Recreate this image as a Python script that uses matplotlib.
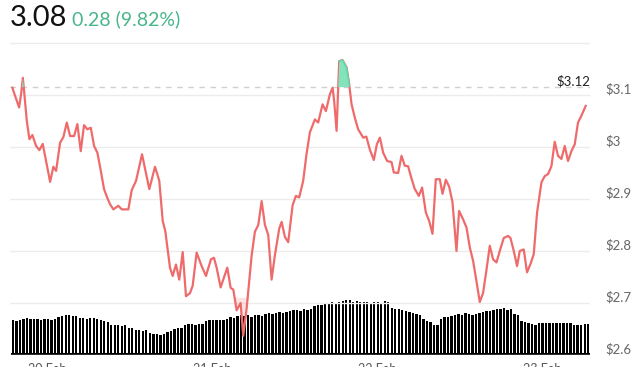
import numpy as np
import matplotlib.pyplot as plt
import matplotlib.transforms as mtransforms

# fiyat verisi (saat, fiyat)
hours = [-5.05, -4.65, -4.07, -3.78, -3.53, -3.35, -2.95, -2.57, -2.14, -1.6,
         -1.12, -0.63, -0.15, 0.44, 0.92, 1.31, 1.89, 2.37, 2.87, 3.35,
         3.93, 4.41, 4.90, 5.38, 5.86, 6.36, 6.84, 7.32, 7.81, 8.29,
         8.77, 9.16, 9.65, 10.37, 10.87, 11.83, 12.32, 12.95, 13.82, 14.88,
         15.71, 16.33, 16.83, 17.21, 17.89, 18.28, 18.76, 19.24, 19.74, 20.22,
         20.8, 21.19, 21.77, 22.50, 23.13, 23.85, 24.29, 24.68, 25.26, 26.23,
         26.72, 27.10, 27.59, 28.17, 28.55, 29.05, 29.78, 30.25, 30.74, 31.23,
         31.71, 32.19, 32.68, 33.16, 33.79, 34.14, 34.62, 35.10, 35.74, 36.22,
         36.70, 37.28, 37.75, 38.25, 38.98, 39.46, 40.1, 40.58, 41.16, 41.56,
         41.79, 42.14, 42.52, 43.01, 43.59, 43.97, 44.32, 44.8, 45.28, 46.01,
         46.47, 46.98, 47.56, 48.0, 48.44, 48.92, 49.50, 50.14, 50.47, 51.10,
         51.59, 52.07, 52.55, 53.05, 53.53, 54.11, 54.59, 55.13, 55.61, 56.10,
         56.58, 57.16, 57.56, 58.04, 58.52, 59.01, 59.59, 59.97, 60.55, 61.05,
         61.53, 62.01, 62.50, 62.98, 63.46, 63.96, 64.44, 64.92, 65.41, 65.89,
         66.47, 67.10, 67.45, 67.93, 68.41, 68.8, 69.38, 69.86, 70.36, 70.84,
         71.32, 71.96, 72.44, 72.92, 73.41, 73.89, 74.37, 74.86, 75.35, 75.83,
         76.32, 76.80, 77.28, 77.77, 78.40]
prices = [3.114, 3.098, 3.076, 3.102, 3.133, 3.108, 3.05, 3.015, 3.023, 3.002,
          2.994, 3.006, 2.973, 2.933, 2.962, 2.954, 3.008, 3.019, 3.047, 3.021,
          3.021, 3.044, 2.992, 3.042, 3.034, 3.037, 3.002, 2.989, 2.955, 2.919,
          2.902, 2.89, 2.88, 2.887, 2.88, 2.88, 2.917, 2.935, 2.986, 2.919,
          2.962, 2.935, 2.858, 2.838, 2.768, 2.752, 2.774, 2.745, 2.798, 2.713,
          2.719, 2.733, 2.797, 2.771, 2.752, 2.784, 2.787, 2.768, 2.73, 2.768,
          2.729, 2.726, 2.686, 2.70, 2.637, 2.69, 2.792, 2.837, 2.85, 2.896,
          2.85, 2.831, 2.745, 2.792, 2.843, 2.856, 2.827, 2.817, 2.888, 2.906,
          2.903, 2.935, 2.985, 3.028, 3.053, 3.047, 3.082, 3.069, 3.101, 3.114,
          3.088, 3.031, 3.165, 3.167, 3.153, 3.121, 3.082, 3.056, 3.034, 3.018,
          3.02, 2.995, 2.975, 3.005, 3.018, 2.989, 2.973, 2.971, 2.951, 2.95,
          2.983, 2.964, 2.963, 2.939, 2.919, 2.906, 2.922, 2.874, 2.858, 2.833,
          2.938, 2.938, 2.91, 2.937, 2.924, 2.894, 2.80, 2.877, 2.861, 2.845,
          2.807, 2.781, 2.742, 2.702, 2.719, 2.764, 2.81, 2.784, 2.778, 2.80,
          2.825, 2.829, 2.825, 2.80, 2.771, 2.80, 2.803, 2.759, 2.775, 2.794,
          2.874, 2.932, 2.944, 2.948, 2.963, 3.010, 2.983, 2.977, 3.002, 2.973,
          2.992, 3.005, 3.047, 3.06, 3.079]

# hacim çubukları (göreli birim)
volume = [35, 34, 35, 36, 37, 36,
          36, 36, 35, 36, 36, 35, 36,
          38, 39, 40, 40, 39, 39,
          37, 37, 36, 37, 37, 36, 35,
          34, 33, 30, 30, 30, 29, 30,
          27, 27, 25, 25, 24, 25,
          22, 21, 21, 20, 21, 23, 24,
          26, 27, 27, 30, 31, 31, 30, 31, 31,
          34, 35, 35, 35, 35, 35, 36,
          38, 37, 39, 40, 39, 40,
          38, 40, 40, 39,
          41, 42, 41, 42, 43, 42, 43,
          44, 45, 45, 44, 46, 45, 46,
          49, 50, 50, 52, 52, 53, 52, 53, 54, 55, 55,
          53, 54, 53, 53, 53, 52, 53, 53, 52, 54, 53,
          47, 46, 46, 45, 44, 43, 42, 41, 40,
          36, 34, 33, 30, 30,
          36, 38, 38, 39,
          40, 41, 40, 42, 41, 40, 41,
          42, 43, 44, 44,
          45, 46, 46, 47, 45, 46, 41, 40,
          34, 33, 32, 31, 30,
          32, 32, 32, 32, 32, 32, 32, 32, 32, 32,
          30, 30, 30, 31, 31]

last_price = "3.08"
change_text = "0.28 (9.82%)"
ref_price = 3.115
ref_label = "$3.12"
y_ticks = [2.6, 2.7, 2.8, 2.9, 3.0, 3.1]
y_tick_labels = ["$2.6", "$2.7", "$2.8", "$2.9", "$3", "$3.1"]
grid_levels = [2.6, 2.7, 2.8, 2.9, 3.0, 3.1, 3.2]
day_ticks = [0, 24, 48, 72]
day_labels = ["20 Feb", "21 Feb", "22 Feb", "23 Feb"]

t = np.array(hours)
p = np.array(prices)
v = np.array(volume)
bar_t = np.linspace(-4.95, 78.76, len(v))

plt.rcParams['font.family'] = ['Lato', 'DejaVu Sans']

fig = plt.figure(figsize=(6.4, 3.67), dpi=100)
ax = fig.add_axes([0.0156, 0.0327, 0.906, 0.8856])
ax2 = ax.twinx()

# hacim çubukları arkada
ax2.bar(bar_t, v, width=0.34, color='black', linewidth=0)
ax2.plot([bar_t[0] - 0.2, bar_t[-1] + 0.2], [0.8, 0.8], color='black', lw=2.2)
ax2.set_ylim(0, 325)
ax2.axis('off')

# fiyat ekseni önde
ax.set_zorder(ax2.get_zorder() + 1)
ax.patch.set_visible(False)

for g in grid_levels:
    ax.axhline(g, color='#ececec', lw=1, zorder=0)
ax.axhline(ref_price, color='#d0d0d0', lw=1, ls=(0, (4, 4)), zorder=1)

ax.plot(t, p, color='#ef6b6b', lw=1.6, zorder=3)
ax.fill_between(t, p, ref_price, where=p > ref_price, interpolate=True,
                color='#82e3bd', lw=0, zorder=4)
p_up = np.where(p >= ref_price - 0.005, p, np.nan)
ax.plot(t, p_up, color='#62d8a8', lw=1.2, zorder=5)
ax.fill_between(t, p, 2.71, where=p < 2.71, interpolate=True,
                color='#ef6b6b', alpha=0.18, lw=0, zorder=2)

ax.set_xlim(-5.4, 79.0)
ax.set_ylim(2.6, 3.225)
ax.set_yticks([])
ax.set_xticks(day_ticks)
ax.set_xticklabels(day_labels, color='#555555', fontsize=9)
ax.tick_params(axis='x', length=0, pad=6)
for s in ax.spines.values():
    s.set_visible(False)

# sağdaki fiyat etiketleri (çizginin biraz üstünde)
lab_tr = mtransforms.blended_transform_factory(fig.transFigure, ax.transData)
lab_tr = lab_tr + mtransforms.ScaledTranslation(0, 6 / 100, fig.dpi_scale_trans)
for y, lab in zip(y_ticks, y_tick_labels):
    ax.text(605 / 640, y, lab, transform=lab_tr, fontsize=9.5,
            color='#666666', va='center', ha='left')

ax.text(590 / 640, ref_price, ref_label, transform=lab_tr, fontsize=9.5,
        color='#222222', va='center', ha='right')

# başlık
fig.text(10 / 640, 1 - 18 / 367, last_price, fontsize=21, color='#111111',
         va='center', ha='left')
fig.text(72 / 640, 1 - 19 / 367, change_text, fontsize=14, color='#48b68a',
         va='center', ha='left')

fig.savefig('out.png', dpi=100)
